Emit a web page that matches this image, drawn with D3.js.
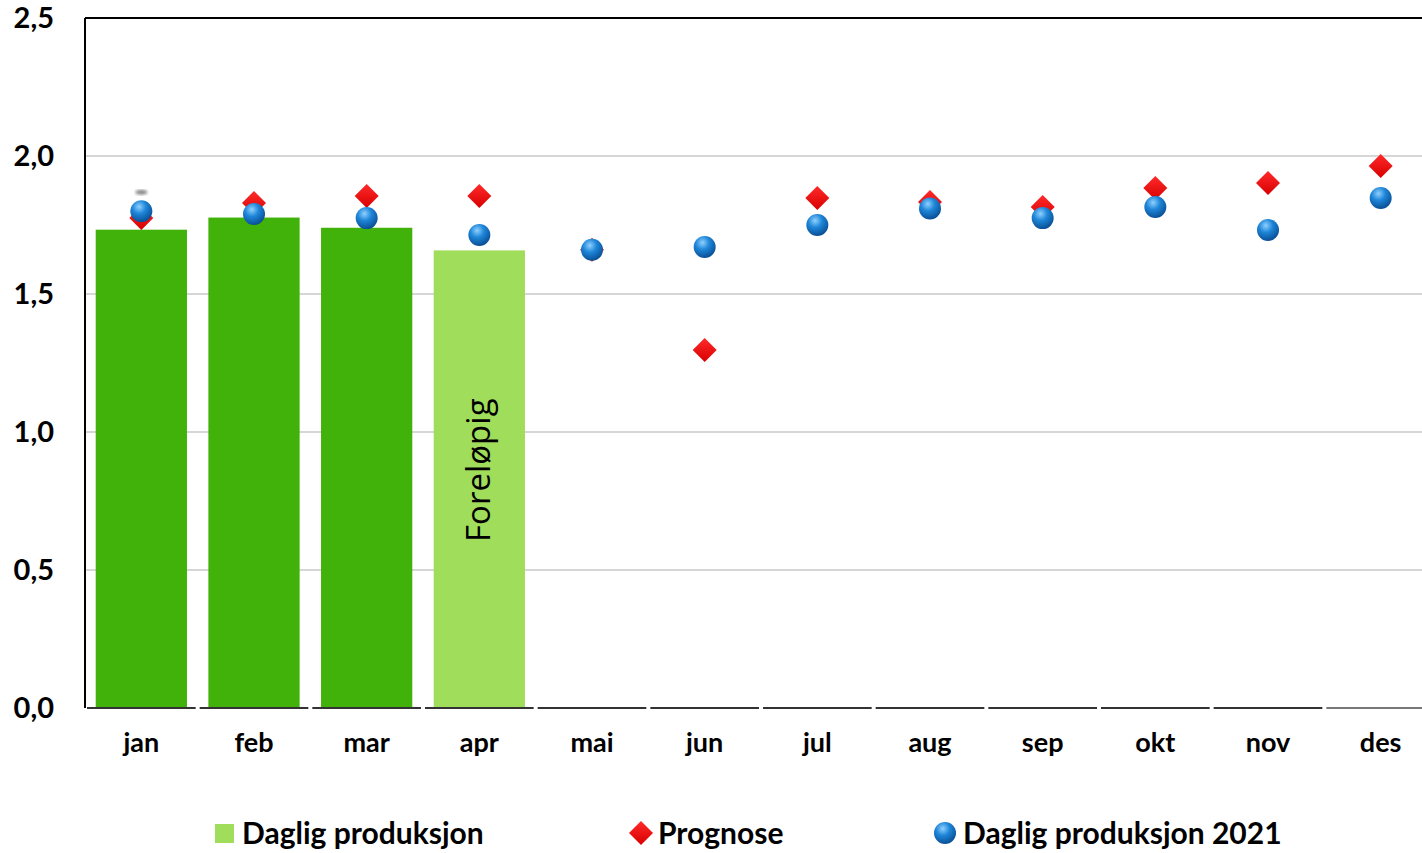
<!DOCTYPE html>
<html><head><meta charset="utf-8">
<script src="https://cdn.jsdelivr.net/npm/d3@7"></script>
<style>body{margin:0;background:#fff}svg{display:block}</style>
</head><body>
<svg id="c" width="1422" height="853"></svg>
<script>
const months = ["jan","feb","mar","apr","mai","jun","jul","aug","sep","okt","nov","des"];
const produksjon = [1.733, 1.777, 1.740, 1.658];
const produksjonFinal = [true, true, true, false];
const prognose = [1.775, 1.83, 1.855, 1.855, 1.66, 1.297, 1.848, 1.833, 1.815, 1.884, 1.902, 1.964];
const produksjon2021 = [1.80, 1.79, 1.775, 1.714, 1.66, 1.67, 1.75, 1.81, 1.775, 1.815, 1.732, 1.848];
const yTicks = [0, 0.5, 1.0, 1.5, 2.0, 2.5];
const legendLabels = ["Daglig produksjon", "Prognose", "Daglig produksjon 2021"];

const svg = d3.select("#c");
const L = 85, R = 1422, Rfull = 1437, T = 18, B = 708;
const x = d3.scaleBand().domain(months).range([L, Rfull]).paddingInner(0.19).paddingOuter(0.095);
const xb = d3.scaleBand().domain(months).range([L, Rfull]);
const y = d3.scaleLinear().domain([0, 2.5]).range([B, T]);
const fmt = d => d3.format(".1f")(d).replace(".", ",");
const font = "Lato, 'Open Sans', sans-serif";
const cx = m => xb(m) + xb.bandwidth()/2;

const defs = svg.append("defs");
const rg = defs.append("radialGradient").attr("id","ball").attr("cx","40%").attr("cy","30%").attr("r","70%");
rg.append("stop").attr("offset","0%").attr("stop-color","#8fd0ff");
rg.append("stop").attr("offset","45%").attr("stop-color","#1e86d8");
rg.append("stop").attr("offset","100%").attr("stop-color","#0a4f96");
const dg = defs.append("linearGradient").attr("id","dia").attr("x1","0").attr("y1","0").attr("x2","0").attr("y2","1");
dg.append("stop").attr("offset","0%").attr("stop-color","#ff2a2a");
dg.append("stop").attr("offset","100%").attr("stop-color","#d80000");
defs.append("filter").attr("id","blur").append("feGaussianBlur").attr("stdDeviation", 1.5);
defs.append("clipPath").attr("id","clip").append("rect").attr("x",0).attr("y",0).attr("width",R).attr("height",853);

const g = svg.append("g").attr("clip-path","url(#clip)");

// gridlines
g.append("g").selectAll("line").data(yTicks.filter(d => d > 0 && d < 2.5)).join("line")
  .attr("x1", L).attr("x2", R).attr("y1", d => y(d)).attr("y2", d => y(d))
  .attr("stroke", "#c8c8c8").attr("stroke-width", 1.5);

// bars
g.append("g").selectAll("rect").data(produksjon).join("rect")
  .attr("x", (d,i) => x(months[i])).attr("width", x.bandwidth())
  .attr("y", d => y(d)).attr("height", d => y(0) - y(d))
  .attr("fill", (d,i) => produksjonFinal[i] ? "#41b20a" : "#a0dd5b");

// Foreløpig label
g.append("text").attr("transform", `translate(${cx(months[3]) + 11},${y(produksjon[3]/2) - 9}) rotate(-90)`)
  .attr("text-anchor","middle").attr("font-family", "'Open Sans', sans-serif").attr("font-size", 33)
  .attr("fill","#000").text("Foreløpig");

// frame: left and top
g.append("line").attr("x1", L).attr("x2", L).attr("y1", T).attr("y2", B).attr("stroke","#000").attr("stroke-width",2);
g.append("line").attr("x1", L).attr("x2", R).attr("y1", T).attr("y2", T).attr("stroke","#000").attr("stroke-width",2);
// bottom axis segments
g.append("g").selectAll("line").data(months).join("line")
  .attr("x1", d => xb(d) + 2).attr("x2", d => xb(d) + xb.bandwidth() - 2)
  .attr("y1", B).attr("y2", B).attr("stroke", (d,i) => i === 11 ? "#777" : "#333").attr("stroke-width", 2);

// small grey shadow artefact above jan
g.append("ellipse").attr("cx", cx(months[0])).attr("cy", y(produksjon2021[0]) - 19).attr("rx", 6).attr("ry", 2.5)
  .attr("fill", "#888").attr("filter","url(#blur)");

// diamonds
const dsz = 12;
g.append("g").selectAll("path").data(prognose).join("path")
  .attr("d", (d,i) => {
    const px = cx(months[i]), py = y(d);
    return `M${px},${py-dsz}L${px+dsz},${py}L${px},${py+dsz}L${px-dsz},${py}Z`;
  }).attr("fill","url(#dia)");

// circles
g.append("g").selectAll("circle").data(produksjon2021).join("circle")
  .attr("cx", (d,i) => cx(months[i])).attr("cy", d => y(d)).attr("r", 11)
  .attr("fill","url(#ball)");

// y tick labels
svg.append("g").selectAll("text").data(yTicks).join("text")
  .attr("x", 54).attr("y", d => y(d) + 10).attr("text-anchor","end")
  .attr("font-family", font).attr("font-weight", "bold").attr("font-size", 29).attr("fill","#000")
  .text(fmt);

// x labels
svg.append("g").selectAll("text").data(months).join("text")
  .attr("x", d => cx(d)).attr("y", 752).attr("text-anchor","middle")
  .attr("font-family", font).attr("font-weight", "bold").attr("font-size", 27).attr("fill","#000")
  .text(d => d);

// legend
const lg = svg.append("g").attr("font-family", font).attr("font-weight","bold").attr("font-size", 30).attr("fill","#000");
lg.append("rect").attr("x", 215).attr("y", 824).attr("width", 19).attr("height", 19).attr("fill", "#a0dd5b");
lg.append("text").attr("x", 242).attr("y", 844).text(legendLabels[0]);
lg.append("path").attr("d", "M641,821L653,833L641,845L629,833Z").attr("fill","url(#dia)");
lg.append("text").attr("x", 658).attr("y", 844).text(legendLabels[1]);
lg.append("circle").attr("cx", 945).attr("cy", 833).attr("r", 11).attr("fill","url(#ball)");
lg.append("text").attr("x", 963).attr("y", 844).text(legendLabels[2]);
</script>
</body></html>
